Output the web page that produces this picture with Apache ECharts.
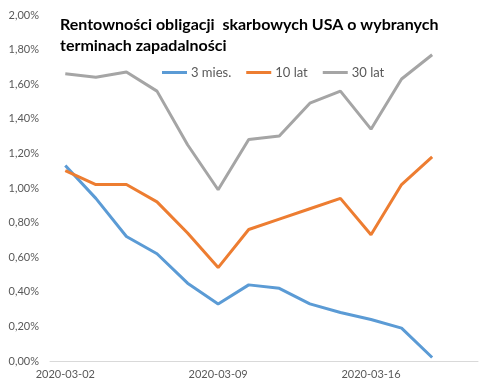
<!DOCTYPE html>
<html><head><meta charset="utf-8">
<script src="https://cdn.jsdelivr.net/npm/echarts@6/dist/echarts.min.js"></script>
<style>html,body{margin:0;padding:0;background:#fff}#c{width:502px;height:387px}</style>
</head><body><div id="c"></div>
<script>
const categories = ['2020-03-02','2020-03-03','2020-03-04','2020-03-05','2020-03-06','2020-03-09','2020-03-10','2020-03-11','2020-03-12','2020-03-13','2020-03-16','2020-03-17','2020-03-18','2020-03-19'];
const mies3 = [1.13, 0.94, 0.72, 0.62, 0.45, 0.33, 0.44, 0.42, 0.33, 0.28, 0.24, 0.19, 0.02, null];
const lat10 = [1.10, 1.02, 1.02, 0.92, 0.74, 0.54, 0.76, 0.82, 0.88, 0.94, 0.73, 1.02, 1.18, null];
const lat30 = [1.66, 1.64, 1.67, 1.56, 1.25, 0.99, 1.28, 1.30, 1.49, 1.56, 1.34, 1.63, 1.77, null];
const seriesNames = ['3 mies.', '10 lat', '30 lat'];
const titleText = 'Rentowności obligacji  skarbowych USA o wybranych\nterminach zapadalności';

const chart = echarts.init(document.getElementById('c'));
const mk = (name, data, color) => ({
  name, type: 'line', data, symbol: 'none', connectNulls: false,
  lineStyle: { width: 3, color }, itemStyle: { color }
});
chart.setOption({
  animation: false,
  textStyle: { fontFamily: 'Lato' },
  title: {
    text: titleText, left: 60, top: 14, padding: 0,
    textStyle: { fontFamily: 'Lato', fontSize: 16, fontWeight: 'bold', color: '#000', lineHeight: 21 }
  },
  legend: {
    left: 162, top: 66, padding: 0, itemWidth: 25, itemHeight: 3, itemGap: 15,
    icon: 'rect',
    textStyle: { fontFamily: 'Lato', fontSize: 13, color: '#595959', padding: [0, 0, 0, -1] },
    data: seriesNames
  },
  grid: { left: 50, right: 24, top: 15, bottom: 26, containLabel: false },
  xAxis: {
    type: 'category', data: categories, boundaryGap: true,
    axisLine: { lineStyle: { color: '#D9D9D9', width: 1 } },
    axisTick: { interval: 4, length: 4, lineStyle: { color: '#D9D9D9' } },
    axisLabel: { interval: 4, color: '#595959', fontSize: 11, margin: 8 },
    splitLine: { show: false }
  },
  yAxis: {
    type: 'value', min: 0, max: 2, interval: 0.2,
    axisLine: { show: false }, axisTick: { show: false },
    splitLine: { show: false },
    axisLabel: { color: '#595959', fontSize: 11, margin: 11,
      formatter: v => v.toFixed(2).replace('.', ',') + '%' }
  },
  series: [
    mk(seriesNames[0], mies3, '#5B9BD5'),
    mk(seriesNames[1], lat10, '#ED7D31'),
    mk(seriesNames[2], lat30, '#A5A5A5')
  ]
});
</script></body></html>
